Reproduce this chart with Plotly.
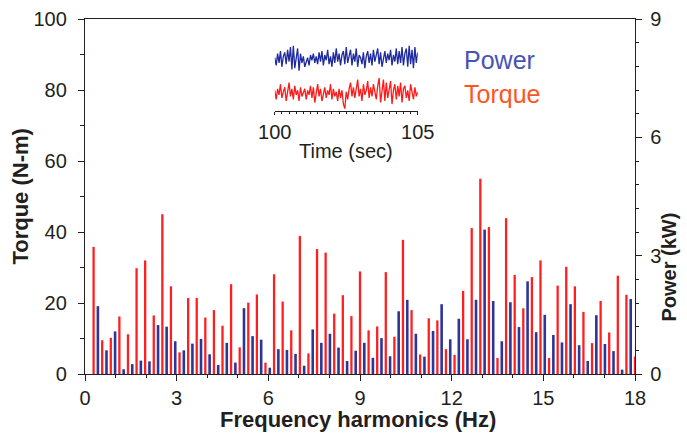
import numpy as np
import plotly.graph_objects as go

# Harmonic spectrum: torque bars at k*f0, power bars half a step later
F0 = 18 / 64  # Hz
torque_nm = [35.8, 9.5, 10.2, 16.2, 11.2, 29.8, 32.0, 16.5, 45.0, 24.7, 6.1, 21.4,
             21.4, 15.9, 18.0, 13.6, 25.3, 7.5, 20.1, 22.4, 3.2, 28.1, 20.4, 12.3, 38.9,
             5.8, 35.2, 34.2, 17.0, 22.2, 16.3, 28.9, 12.3, 13.4, 28.7, 10.5, 37.8,
             18.0, 5.5, 15.7, 15.1, 7.0, 5.4, 23.4, 41.1, 55.0, 41.4, 4.5, 43.9, 27.9,
             18.5, 27.3, 32.0, 4.5, 24.9, 30.2, 24.7, 17.5, 8.7, 20.6, 11.7, 27.7, 22.3, 4.9]
power_kw = [1.72, 0.60, 1.08, 0.12, 0.25, 0.34, 0.32, 1.24, 1.20, 0.83, 0.60,
            0.77, 0.89, 0.50, 0.23, 0.79, 0.29, 1.67, 0.96, 0.87, 0.16, 0.63, 0.61, 0.51,
            0.21, 1.13, 0.79, 1.02, 0.67, 0.33, 0.59, 0.79, 0.41, 0.91, 0.45, 1.59, 1.88,
            1.02, 0.44, 1.09, 1.77, 0.88, 1.40, 0.88, 1.88, 3.66, 1.85, 0.83, 1.82, 1.19,
            2.35, 1.06, 1.50, 0.99, 0.80, 1.77, 0.73, 0.33, 1.49, 0.76, 0.58, 0.11, 1.90]
torque_freq = [(k + 1) * F0 for k in range(len(torque_nm))]
power_freq = [(k + 1.5) * F0 for k in range(len(power_kw))]

x_ticks = [0, 3, 6, 9, 12, 15, 18]
torque_ticks = [0, 20, 40, 60, 80, 100]
power_ticks = [0, 3, 6, 9]

# Time-domain snippets (normalised) for the inset
inset_power = [0.1, -0.5, 0.4, -0.3, 0.6, -0.6, 0.2, 0.5, -0.4, 0.7, -0.2, 0.9, -0.8, 1.0, -0.7,
               0.3, 0.8, -0.9, 0.4, -0.3, 0.2, -0.6, -0.2, 0.1, -0.5, 0.3, -0.1, 0.4, -0.3, 0.2,
               -0.4, 0.5, -0.2, 0.6, -0.5, 0.3, -0.1, 0.7, -0.4, 0.2, -0.6, 0.5, -0.3, 0.8, -0.2,
               0.4, -0.5, 0.3, 0.6, -0.4, 0.9, -0.3, 0.2, 0.7, -0.5, 0.4, -0.2, 0.8, -0.6, 0.3,
               0.1, -0.4, 0.5, -0.7, 0.2, 0.6, -0.3, 0.4, -0.5, 0.7, -0.2, 0.3, 0.8, -0.4, 0.5,
               -0.6, 0.2, 0.6, -0.3, 0.4, -0.1, 0.7, -0.5, 0.3, -0.2, 0.8, -0.4, 0.6, -0.3, 0.9,
               -0.5, 0.4, 0.8, -0.6, 1.0, -0.4, 0.7, -0.7, 0.9, -0.3, 0.5]
inset_torque = [0.2, -0.4, 0.3, -0.1, 0.6, -0.3, 0.1, 0.4, -0.5, 0.2, 0.7, -0.2, 0.3, -0.4, 0.5,
                -0.1, 0.2, -0.5, 0.4, -0.2, 0.1, 0.3, -0.4, 0.2, -0.1, 0.5, -0.3, 0.4, -0.6, 0.2,
                0.6, -0.2, 0.3, -0.5, 0.1, 0.4, -0.3, 0.2, -0.1, 0.6, -0.4, 0.3, -0.2, 0.1, -0.5,
                0.3, -0.3, 0.2, -0.7, -1.0, 0.1, -0.4, 0.3, 0.7, -0.2, 0.4, -0.3, 0.5, 0.9, -0.2,
                0.3, -0.5, 0.6, -0.1, 0.2, 0.8, -0.3, 0.4, -0.2, 0.6, 0.2, -0.4, 0.5, 1.0, -0.6,
                0.3, 0.9, -0.5, 0.7, -0.3, 0.4, 0.8, -0.7, 0.2, 0.6, -0.4, 0.5, -0.2, 0.7, -0.6,
                0.3, 0.5, -0.3, 0.2, -0.5, 0.6, 0.1, -0.4, 0.4, -0.2, 0.1]
inset_time = np.linspace(100, 105, len(inset_power))

RED = "#ff1f1f"
BLUE = "#2d3596"
INK = "#231f20"
FONT = "Liberation Sans, Arial, sans-serif"

fig = go.Figure()
fig.add_trace(go.Bar(x=torque_freq, y=torque_nm, width=0.075, marker=dict(color=RED, line_width=0),
                     name="Torque", xaxis="x", yaxis="y"))
fig.add_trace(go.Bar(x=power_freq, y=power_kw, width=0.085, marker=dict(color=BLUE, line_width=0),
                     name="Power", xaxis="x", yaxis="y2"))
fig.add_trace(go.Scatter(x=inset_time, y=inset_power, mode="lines", line=dict(color="#1f2a9e", width=1.3),
                         xaxis="x3", yaxis="y3"))
fig.add_trace(go.Scatter(x=inset_time, y=inset_torque, mode="lines", line=dict(color="#ff1a1a", width=1.3),
                         xaxis="x3", yaxis="y4"))

axis_common = dict(showline=True, linecolor=INK, linewidth=1.3, ticks="outside", tickcolor=INK,
                   tickwidth=1.3, showgrid=False, zeroline=False, automargin=False,
                   tickfont=dict(family=FONT, size=20, color=INK))


def title_note(text, x, y, size, angle=0, bold=True):
    return dict(text=f"<b>{text}</b>" if bold else text, x=x, y=y, xref="paper", yref="paper",
                xanchor="center", yanchor="middle", textangle=angle, showarrow=False,
                font=dict(family=FONT, size=size, color=INK))


fig.update_layout(
    width=687, height=435,
    margin=dict(l=85, r=52, t=19, b=61),
    paper_bgcolor="white", plot_bgcolor="white",
    showlegend=False, barmode="overlay",
    font=dict(family=FONT, color=INK),
    xaxis=dict(**axis_common, range=[0, 18], tickvals=x_ticks, ticklen=6, mirror=True,
               minor=dict(dtick=1, tick0=0, ticklen=3, ticks="outside", tickcolor=INK),
               domain=[0, 1], anchor="y"),
    yaxis=dict(**axis_common, range=[0, 100], tickvals=torque_ticks, ticklen=6,
               ticklabelstandoff=7,
               minor=dict(dtick=10, tick0=0, ticklen=4, ticks="outside", tickcolor=INK),
               domain=[0, 1], anchor="x"),
    yaxis2=dict(**axis_common, range=[0, 9], tickvals=power_ticks, ticklen=6, side="right",
                overlaying="y", anchor="x", ticklabelstandoff=4,
                minor=dict(dtick=0.6, tick0=0, ticklen=3, ticks="outside", tickcolor=INK)),
    xaxis3=dict(**axis_common, domain=[0.345, 0.605], anchor="y4", range=[100, 105],
                tickvals=[100, 105], ticklen=3,
                minor=dict(dtick=0.25, tick0=100, ticklen=2, ticks="outside", tickcolor=INK)),
    yaxis3=dict(domain=[0.845, 0.93], range=[-1.15, 1.15], visible=False, anchor="x3"),
    yaxis4=dict(domain=[0.741, 0.84], range=[-1.15, 1.15], visible=False, anchor="x3"),
    annotations=[
        title_note("Frequency harmonics (Hz)", 0.497, -0.127, 22),
        title_note("Torque (N-m)", -0.118, 0.5, 22, angle=-90),
        title_note("Power (kW)", 1.06, 0.30, 20, angle=-90),
        title_note("Time (sec)", 0.475, 0.627, 20, bold=False),
        dict(text="Power", x=0.685, y=0.885, xref="paper", yref="paper", xanchor="left",
             yanchor="middle", showarrow=False, font=dict(family=FONT, size=25, color="#4653b3")),
        dict(text="Torque", x=0.685, y=0.79, xref="paper", yref="paper", xanchor="left",
             yanchor="middle", showarrow=False, font=dict(family=FONT, size=25, color="#ff5522")),
    ],
)

fig.write_html("out.html")
